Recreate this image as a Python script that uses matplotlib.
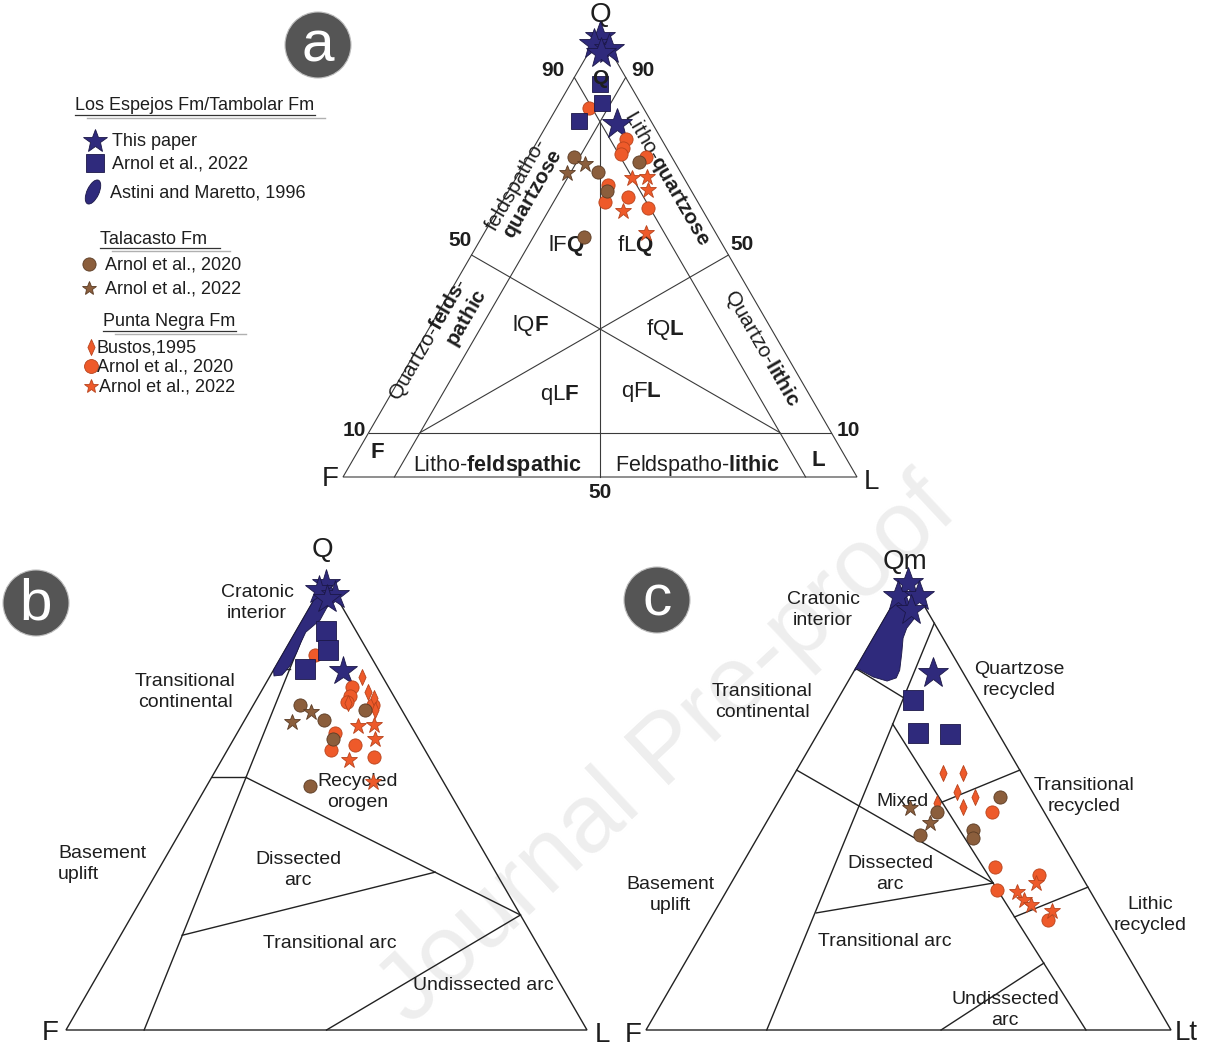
import numpy as np
import matplotlib
matplotlib.use("Agg")
import matplotlib.pyplot as plt
from matplotlib.patches import Circle, Ellipse, Polygon
from matplotlib.path import Path

plt.rcParams["font.family"] = ["Liberation Sans", "DejaVu Sans"]
plt.rcParams["mathtext.fontset"] = "custom"
plt.rcParams["mathtext.rm"] = "Liberation Sans"
plt.rcParams["mathtext.bf"] = "Liberation Sans:bold"
plt.rcParams["mathtext.it"] = "Liberation Sans:italic"

NAVY, NAVY_EDGE = "#2f2a7c", "#1b1747"
BROWN, BROWN_EDGE = "#8b5e3c", "#5a3b24"
ORANGE, ORANGE_EDGE = "#ee5a2a", "#b8431c"
INK = "#1e1e1e"

# ---------------- sample compositions ----------------
# QFL (Q, F, L) in percent
qfl_this_paper = [(99, 0.5, 0.5), (97.5, 2.5, 0), (96.5, 0, 3.5), (95.5, 2, 2.5), (79.5, 7, 13.5)]
qfl_espejos_arnol2022 = [(88.5, 5.8, 5.7), (84.2, 7.6, 8.2), (80.1, 14.0, 5.9)]
qfl_talacasto_arnol2020 = [(72.0, 19.0, 9.0), (68.7, 16.1, 15.2), (64.5, 16.4, 19.1),
                           (71.0, 7.0, 22.0), (54.0, 26.1, 19.9)]
qfl_talacasto_arnol2022 = [(70.6, 17.6, 11.8), (68.4, 22.3, 9.3)]
qfl_pnegra_bustos1995 = [(78.3, 4.0, 17.7), (74.9, 4.5, 20.6), (73.6, 4.0, 22.4),
                         (72.5, 9.6, 17.9), (71.0, 5.1, 23.9)]
qfl_pnegra_arnol2020 = [(83.2, 10.5, 6.3), (76.1, 6.9, 17.0), (74.0, 8.5, 17.5),
                        (72.7, 9.6, 17.7), (72.1, 5.0, 22.9), (65.8, 15.5, 18.7),
                        (62.0, 18.0, 20.0), (63.1, 13.0, 23.9), (60.5, 10.5, 29.0)]
qfl_pnegra_arnol2022 = [(67.4, 10.1, 22.5), (67.6, 7.1, 25.3), (64.6, 8.3, 27.1),
                        (59.8, 15.7, 24.5), (55.0, 13.6, 31.4)]
qfl_astini_field = [(98, 2, 0), (94.9, 1.8, 3.3), (90.9, 5.7, 3.4), (88.2, 9.8, 2.0),
                    (86.0, 11.8, 2.2), (83.8, 13.7, 2.5), (80.7, 16.6, 2.7),
                    (78.7, 19.1, 2.2), (78.5, 20.75, 0.75), (79.8, 20.2, 0)]

# QmFLt (Qm, F, Lt) in percent
qm_this_paper = [(99, 0.5, 0.5), (96, 4, 0), (96, 0, 4), (93, 3, 4), (79.0, 5.8, 15.2)]
qm_espejos_arnol2022 = [(73.0, 12.6, 14.4), (65.7, 15.3, 19.0), (65.5, 9.3, 25.2)]
qm_talacasto_arnol2020 = [(51.5, 6.8, 41.7), (48.2, 20.4, 31.4), (43.1, 26.2, 30.7),
                          (44.2, 15.6, 40.2), (42.5, 16.4, 41.1)]
qm_talacasto_arnol2022 = [(49.1, 25.1, 25.8), (45.8, 23.0, 31.2)]
qm_pnegra_bustos1995 = [(56.9, 14.9, 28.2), (56.9, 11.1, 32.0), (52.7, 14.3, 33.0),
                        (51.5, 11.5, 37.0), (49.3, 14.9, 35.8), (50.2, 19.4, 30.4)]
qm_pnegra_arnol2020 = [(48.2, 10.0, 41.8), (36.1, 15.4, 48.5), (31.0, 17.6, 51.4),
                       (34.3, 7.9, 57.8), (24.3, 11.3, 64.4)]
qm_pnegra_arnol2022 = [(30.5, 14.1, 55.4), (28.8, 13.6, 57.6), (27.7, 12.8, 59.5),
                       (32.5, 9.4, 58.1), (26.3, 9.5, 64.2)]
qm_astini_field = [(98, 2, 0), (91.2, 3.1, 5.7), (88.9, 5.8, 5.3), (86.7, 7.6, 5.7),
                   (83.4, 9.5, 7.1), (79.6, 11.8, 8.6), (77.9, 13.3, 8.8),
                   (77.2, 15.4, 7.4), (78.1, 17.6, 4.3), (79.9, 19.6, 0.5), (79.5, 20.5, 0)]

# ---------------- classification field boundaries ----------------
scheme_a_lines = [((10, 90, 0), (10, 0, 90)), ((90, 0, 10), (0, 90, 10)),
                  ((90, 10, 0), (0, 10, 90)), ((80, 10, 10), (0, 50, 50)),
                  ((10, 80, 10), (50, 0, 50)), ((10, 10, 80), (50, 50, 0))]
dickinson_qfl_lines = [((100, 0, 0), (0, 85, 15)), ((80, 20, 0), (80, 17, 3)),
                       ((56, 44, 0), (56, 37.4, 6.6)), ((56, 37.4, 6.6), (25.5, 0, 74.5)),
                       ((21, 67.2, 11.8), (35, 11.6, 53.4)), ((0, 50, 50), (25.5, 0, 74.5))]
dickinson_qmflt_lines = [((90, 0, 10), (0, 77, 23)), ((80, 20, 0), (73.5, 14.1, 12.4)),
                         ((67.7, 19.1, 13.2), (0, 16.2, 83.8)),
                         ((57.5, 42.5, 0), (32.5, 17.6, 49.9)),
                         ((25.9, 54.6, 19.5), (32.5, 17.6, 49.9)),
                         ((50.4, 18.4, 31.2), (57.5, 0, 42.5)),
                         ((25.0, 17.3, 57.7), (31.6, 0, 68.4)),
                         ((0, 43.8, 56.2), (14.8, 16.8, 68.4))]


def make_tern(top, left, right):
    top, left, right = (np.asarray(v, float) for v in (top, left, right))

    def tf(comps):
        c = np.atleast_2d(np.asarray(comps, float))
        c = c / c.sum(axis=1, keepdims=True)
        p = c[:, :1] * top + c[:, 1:2] * left + c[:, 2:3] * right
        return p[:, 0], p[:, 1]
    return tf


W, H = 1207, 1051
fig = plt.figure(figsize=(W / 100, H / 100), dpi=100)
ax = fig.add_axes([0, 0, 1, 1])
ax.set_xlim(0, W)
ax.set_ylim(H, 0)
ax.axis("off")

# watermark
ax.text(668, 752, "Journal Pre-proof", rotation=43, fontsize=70, color="#eeeeee",
        ha="center", va="center", zorder=0)

tern_a = make_tern((600, 33), (343, 477), (857, 477))
tern_b = make_tern((326, 579), (66, 1030), (587, 1030))
tern_c = make_tern((908, 578), (646, 1030), (1171, 1030))

thin_diamond = Path([(0, 1), (0.45, 0), (0, -1), (-0.45, 0), (0, 1)],
                    [Path.MOVETO, Path.LINETO, Path.LINETO, Path.LINETO, Path.CLOSEPOLY])


def frame(tf, lines, lw, color):
    x, y = tf([(100, 0, 0), (0, 100, 0), (0, 0, 100), (100, 0, 0)])
    ax.plot(x, y, color=color, lw=lw, zorder=1, solid_joinstyle="miter")
    for p, q in lines:
        x, y = tf([p, q])
        ax.plot(x, y, color=color, lw=lw, zorder=1)


def pts(tf, comps, marker, ms, face, edge, z=4, mew=0.6):
    x, y = tf(comps)
    ax.plot(x, y, ls="none", marker=marker, ms=ms, mfc=face, mec=edge, mew=mew, zorder=z)


def field(tf, comps):
    x, y = tf(comps)
    ax.add_patch(Polygon(np.column_stack([x, y]), closed=True, fc=NAVY, ec=NAVY_EDGE,
                         lw=0.6, joinstyle="round", zorder=2.5))


def txt(x, y, s, size=14, z=2, **kw):
    kw.setdefault("ha", "center")
    kw.setdefault("va", "center")
    ax.text(x, y, s, fontsize=size, color=INK, zorder=z, **kw)


# ---------------- panel a ----------------
frame(tern_a, scheme_a_lines, 0.8, "#3a3a3a")
txt(600, 15, "Q", 20)
txt(330, 479, "F", 20)
txt(871, 482, "L", 20)
for (x, y, s) in [(553, 70, "90"), (643, 70, "90"), (460, 240, "50"), (742, 245, "50"),
                  (600, 492, "50"), (354, 430, "10"), (848, 430, "10")]:
    txt(x, y, s, 15, fontweight="bold")
txt(600, 79, "Q", 15, z=6, fontweight="bold")
txt(377, 453, "F", 16, fontweight="bold")
txt(818, 460, "L", 16, fontweight="bold")
txt(497, 466, r"Litho-$\mathbf{feldspathic}$", 15.5)
txt(698, 466, r"Feldspatho-$\mathbf{lithic}$", 15.5)
txt(566, 246, r"lF$\mathbf{Q}$", 16)
txt(635, 246, r"fL$\mathbf{Q}$", 16)
txt(531, 325, r"lQ$\mathbf{F}$", 16)
txt(665, 330, r"fQ$\mathbf{L}$", 16)
txt(560, 395, r"qL$\mathbf{F}$", 16)
txt(641, 392, r"qF$\mathbf{L}$", 16)
txt(526, 190, "feldspatho-\n" + r"$\mathbf{quartzose}$", 15, rotation=60,
    rotation_mode="anchor", linespacing=0.95)
txt(438, 345, r"Quartzo-$\mathbf{felds}$-" + "\n" + r"$\mathbf{pathic}$", 15, rotation=60,
    rotation_mode="anchor", multialignment="right", linespacing=0.95)
txt(667, 178, r"Litho-$\mathbf{quartzose}$", 15, rotation=-60, rotation_mode="anchor")
txt(762, 348, r"Quartzo-$\mathbf{lithic}$", 15, rotation=-60, rotation_mode="anchor")

pts(tern_a, qfl_this_paper, "*", 23, NAVY, NAVY_EDGE, z=3)
pts(tern_a, qfl_pnegra_arnol2020, "o", 9.5, ORANGE, ORANGE_EDGE)
pts(tern_a, qfl_talacasto_arnol2020, "o", 9.5, BROWN, BROWN_EDGE)
pts(tern_a, qfl_talacasto_arnol2022, "*", 12, BROWN, BROWN_EDGE)
pts(tern_a, qfl_pnegra_arnol2022, "*", 12, ORANGE, ORANGE_EDGE)
pts(tern_a, qfl_espejos_arnol2022, "s", 12, NAVY, NAVY_EDGE, z=5)

# ---------------- panel b ----------------
frame(tern_b, dickinson_qfl_lines, 1.0, "#222222")
txt(322, 550, "Q", 20)
txt(50, 1033, "F", 20)
txt(602, 1035, "L", 20)
txt(257, 603, "Cratonic\ninterior", 14, linespacing=1.25)
txt(185, 692, "Transitional\ncontinental", 14, linespacing=1.25)
txt(58, 864, "Basement\nuplift", 14, ha="left", linespacing=1.25)
txt(358, 792, "Recycled\norogen", 14, linespacing=1.25)
txt(298, 870, "Dissected\narc", 14, linespacing=1.25)
txt(330, 943, "Transitional arc", 14)
txt(483, 985, "Undissected arc", 14)

field(tern_b, qfl_astini_field)
pts(tern_b, qfl_this_paper, "*", 21, NAVY, NAVY_EDGE, z=3)
pts(tern_b, qfl_pnegra_arnol2020, "o", 9.5, ORANGE, ORANGE_EDGE)
pts(tern_b, qfl_pnegra_bustos1995, thin_diamond, 11.5, ORANGE, ORANGE_EDGE)
pts(tern_b, qfl_talacasto_arnol2020, "o", 9.5, BROWN, BROWN_EDGE)
pts(tern_b, qfl_talacasto_arnol2022, "*", 12, BROWN, BROWN_EDGE)
pts(tern_b, qfl_pnegra_arnol2022, "*", 12, ORANGE, ORANGE_EDGE)
pts(tern_b, qfl_espejos_arnol2022, "s", 14, NAVY, NAVY_EDGE, z=5)

# ---------------- panel c ----------------
frame(tern_c, dickinson_qmflt_lines, 1.0, "#222222")
txt(905, 562, "Qm", 20)
txt(633, 1035, "F", 20)
txt(1186, 1033, "Lt", 20)
txt(823, 610, "Cratonic\ninterior", 14, linespacing=1.25)
txt(762, 702, "Transitional\ncontinental", 14, linespacing=1.25)
txt(670, 895, "Basement\nuplift", 14, linespacing=1.25)
txt(1019, 680, "Quartzose\nrecycled", 14, linespacing=1.25)
txt(1084, 796, "Transitional\nrecycled", 14, linespacing=1.25)
txt(903, 802, "Mixed", 14)
txt(890, 874, "Dissected\narc", 14, linespacing=1.25)
txt(885, 942, "Transitional arc", 14)
txt(1150, 915, "Lithic\nrecycled", 14, linespacing=1.25)
txt(1005, 1010, "Undissected\narc", 14, linespacing=1.25)

field(tern_c, qm_astini_field)
pts(tern_c, qm_this_paper, "*", 23, NAVY, NAVY_EDGE, z=3)
pts(tern_c, qm_pnegra_bustos1995, thin_diamond, 11.5, ORANGE, ORANGE_EDGE)
pts(tern_c, qm_pnegra_arnol2020, "o", 9.5, ORANGE, ORANGE_EDGE)
pts(tern_c, qm_talacasto_arnol2020, "o", 9.5, BROWN, BROWN_EDGE)
pts(tern_c, qm_talacasto_arnol2022, "*", 12, BROWN, BROWN_EDGE)
pts(tern_c, qm_pnegra_arnol2022, "*", 12, ORANGE, ORANGE_EDGE)
pts(tern_c, qm_espejos_arnol2022, "s", 14, NAVY, NAVY_EDGE, z=5)

# ---------------- panel badges ----------------
for (cx, cy, s) in [(318, 45, "a"), (36, 603, "b"), (657, 600, "c")]:
    ax.add_patch(Circle((cx, cy), 33, fc="#555555", ec="#bdbdbd", lw=0.8, zorder=6))
    ax.text(cx, cy + 1, s, fontsize=42, color="white", ha="center", va="center", zorder=7)

# ---------------- legend ----------------
def header(x, y, s, x_end):
    ax.text(x, y, s, fontsize=13, color=INK, ha="left", va="center")
    ax.plot([x, x_end], [y + 9, y + 9], color="#333333", lw=0.9)
    ax.plot([x + 12, x_end + 10], [y + 12, y + 12], color="#b0b0b0", lw=1.0)


def entry(mx, x, y, s, marker, ms, face, edge):
    ax.plot([mx], [y], ls="none", marker=marker, ms=ms, mfc=face, mec=edge, mew=0.6)
    ax.text(x, y + 1, s, fontsize=13, color=INK, ha="left", va="center")


header(75, 106, "Los Espejos Fm/Tambolar Fm", 315)
entry(95, 112, 141, "This paper", "*", 18, NAVY, NAVY_EDGE)
entry(95, 112, 163, "Arnol et al., 2022", "s", 13, NAVY, NAVY_EDGE)
ax.add_patch(Ellipse((93, 192), 26, 12, angle=-65, fc=NAVY, ec=NAVY_EDGE, lw=0.6))
ax.text(110, 193, "Astini and Maretto, 1996", fontsize=13, color=INK, ha="left", va="center")

header(100, 239, "Talacasto Fm", 220)
entry(89, 105, 264, "Arnol et al., 2020", "o", 9.5, BROWN, BROWN_EDGE)
entry(89, 105, 288, "Arnol et al., 2022", "*", 10, BROWN, BROWN_EDGE)

header(103, 322, "Punta Negra Fm", 236)
entry(91, 97, 347, "Bustos,1995", thin_diamond, 11.5, ORANGE, ORANGE_EDGE)
entry(91, 97, 366, "Arnol et al., 2020", "o", 10, ORANGE, ORANGE_EDGE)
entry(91, 99, 386, "Arnol et al., 2022", "*", 10, ORANGE, ORANGE_EDGE)

fig.savefig("out.png", dpi=100)
